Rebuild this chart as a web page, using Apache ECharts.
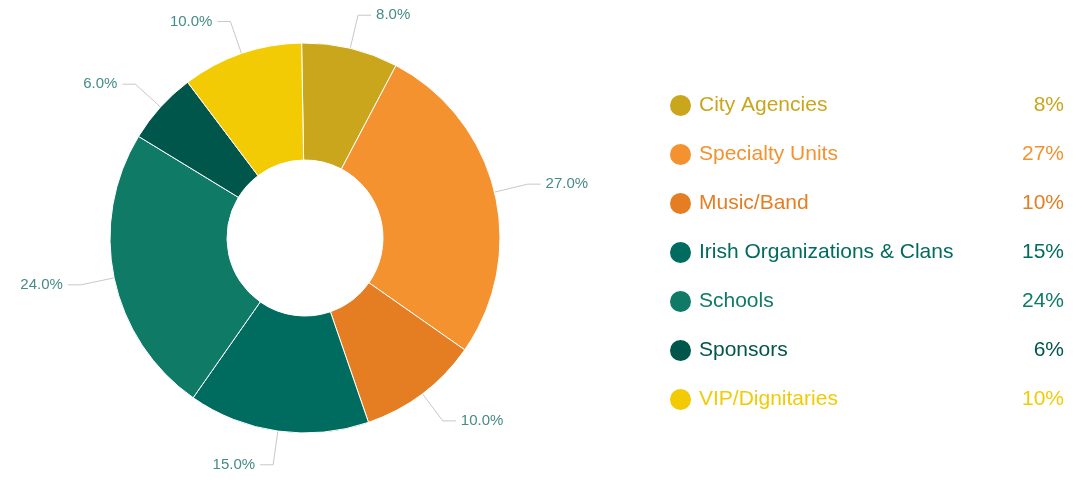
<!DOCTYPE html>
<html>
<head>
<meta charset="utf-8">
<script src="https://cdn.jsdelivr.net/npm/echarts@6/dist/echarts.min.js"></script>
<style>
  html, body { margin: 0; padding: 0; background: #fff; }
  #chart { width: 1081px; height: 483px; }
</style>
</head>
<body>
<div id="chart"></div>
<script>
// categories and values
var categories = ['City Agencies', 'Specialty Units', 'Music/Band', 'Irish Organizations & Clans', 'Schools', 'Sponsors', 'VIP/Dignitaries']
var values = [8, 27, 10, 15, 24, 6, 10]
var colors = ['#C9A61B', '#F3922F', '#E57E22', '#006B5F', '#0F7B67', '#00564B', '#F2CB05']

var chart = echarts.init(document.getElementById('chart'))

var pieData = categories.map(function (name, i) {
  return { name: name, value: values[i], itemStyle: { color: colors[i] } }
})

var legendData = categories.map(function (name, i) {
  return { name: name, textStyle: { color: colors[i] } }
})

chart.setOption({
  animation: false,
  legend: {
    orient: 'vertical',
    left: 663,
    top: 88,
    icon: 'circle',
    itemWidth: 23,
    itemHeight: 23,
    itemGap: 24,
    selectedMode: false,
    data: legendData,
    formatter: function (name) {
      var i = categories.indexOf(name)
      return '{n|' + name + '}{p|' + values[i] + '%}'
    },
    textStyle: {
      fontFamily: 'Liberation Sans',
      fontSize: 21,
      padding: [0, 0, 0, 2],
      rich: {
        n: { fontFamily: 'Liberation Sans', fontSize: 21, width: 300, lineHeight: 23 },
        p: { fontFamily: 'Liberation Sans', fontSize: 21, width: 65, align: 'right', lineHeight: 23 }
      }
    }
  },
  series: [{
    type: 'pie',
    center: [305, 238],
    radius: [78, 195],
    startAngle: 91,
    clockwise: true,
    data: pieData,
    itemStyle: { borderColor: '#fff', borderWidth: 1 },
    label: {
      show: true,
      formatter: function (p) { return p.percent.toFixed(1) + '%' },
      color: '#458C87',
      fontFamily: 'Liberation Sans',
      fontSize: 15
    },
    labelLine: {
      length: 34,
      length2: 13,
      lineStyle: { color: '#c8c8c8', width: 1 }
    },
    emphasis: { disabled: true }
  }]
})
</script>
</body>
</html>
